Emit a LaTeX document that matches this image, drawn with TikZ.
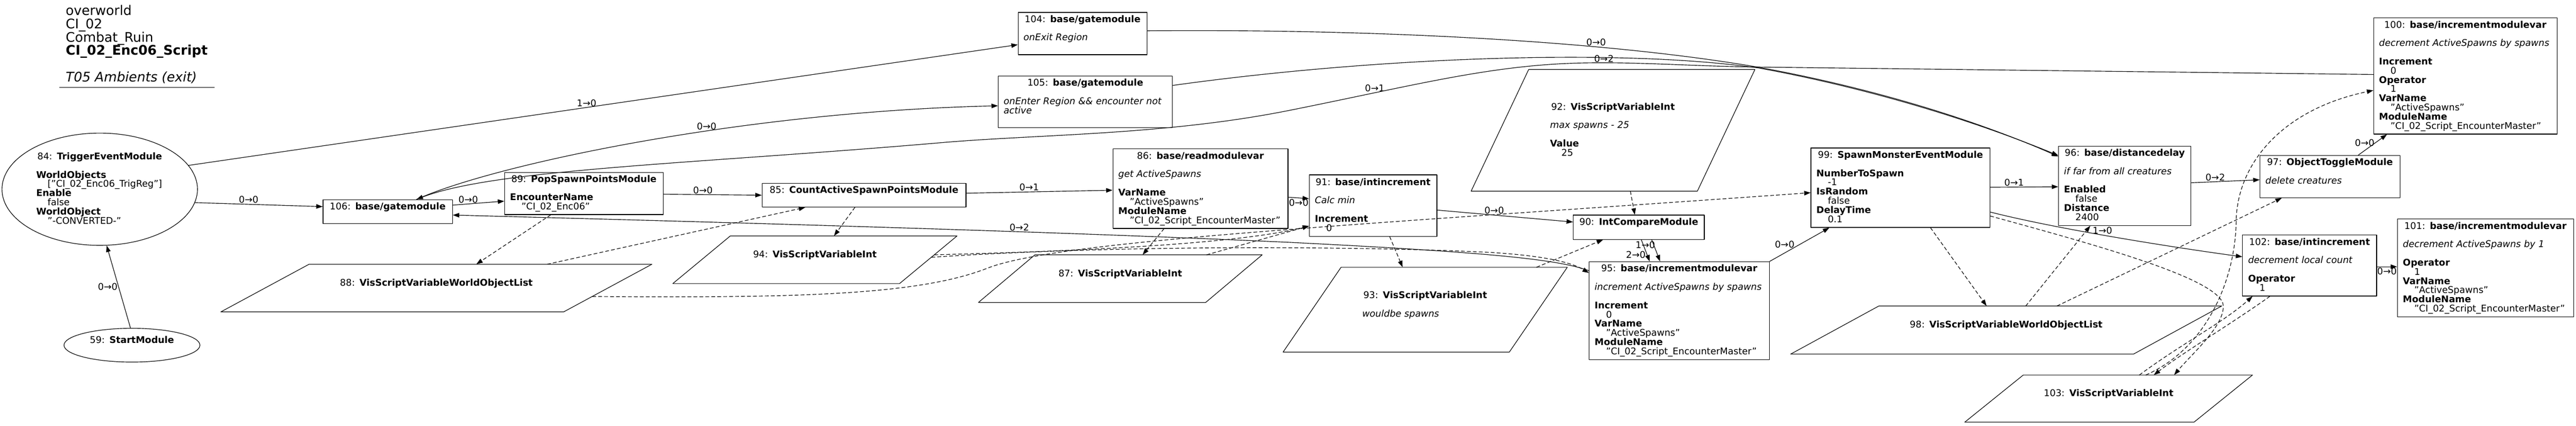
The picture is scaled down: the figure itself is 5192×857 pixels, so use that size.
\documentclass[tikz,border=0pt]{standalone}
\usepackage{fontspec}
\setmainfont{DejaVu Sans}
\usetikzlibrary{arrows.meta,shapes.geometric}

\newcommand\nfont{\fontsize{18.67pt}{18.5pt}\selectfont\lineskiplimit=-30pt\relax}
\newcommand\hfont{\fontsize{26.67pt}{26.8pt}\selectfont\lineskiplimit=-30pt\relax}
\newcommand\lstrut{\rule[-4.2pt]{0pt}{18.5pt}}
\newcommand\ttl[2]{\makebox[\linewidth]{#1: \textbf{#2}}}
\newcommand\cmt[1]{\mbox{\itshape #1}}
\newcommand\prp[2]{\mbox{\bfseries #1}\\\hspace*{23pt}\mbox{#2}}

\begin{document}
\begin{tikzpicture}[x=1pt,y=-1pt,line width=1.2pt,line cap=round,line join=round,>={Triangle[length=13pt,width=9pt]},
  modbox/.style={draw,rectangle,font=\nfont,align=left,inner xsep=11pt,inner ysep=0pt,execute at begin node=\lstrut,execute at end node=\lstrut},
  evell/.style={draw,ellipse,font=\nfont,align=left,inner sep=0pt,execute at begin node=\lstrut,execute at end node=\lstrut},
  varpg/.style={rectangle,font=\nfont,align=left,inner sep=0pt,outer sep=0pt,execute at begin node=\lstrut,execute at end node=\lstrut},
  lbl/.style={font=\nfont,inner sep=1.5pt},
  dsh/.style={dash pattern=on 7pt off 5pt}]
\useasboundingbox (0,0) rectangle (5192,857);

\node[anchor=north west,inner sep=0pt,font=\hfont,align=left] (title) at (132,9) {\rule{0pt}{21pt}overworld\\CI\_02\\Combat\_Ruin\\\textbf{CI\_02\_Enc06\_Script}\\[26.8pt]\textit{T05 Ambients (exit)}};
\draw (120,176) -- (432,176);

\node[evell,minimum width=394pt,minimum height=226pt,text width=256pt] (n84) at (201,381) {\ttl{84}{TriggerEventModule}\\\lstrut\\\prp{WorldObjects}{["CI\_02\_Enc06\_TrigReg"]}\\\prp{Enable}{false}\\\prp{WorldObject}{"-CONVERTED-"}};
\node[evell,minimum width=274pt,minimum height=68pt,text width=169pt] (n59) at (266,695) {\ttl{59}{StartModule}\\};

\node[modbox,minimum width=261pt,minimum height=48pt,text width=239pt] (n106) at (781.5,426) {\ttl{106}{base/gatemodule}\\};
\node[modbox,minimum width=320pt,minimum height=85pt,text width=298pt] (n89) at (1177,389.5) {\ttl{89}{PopSpawnPointsModule}\\\lstrut\\\prp{EncounterName}{"CI\_02\_Enc06"}};
\node[modbox,minimum width=411pt,minimum height=48pt,text width=389pt] (n85) at (1741.5,393) {\ttl{85}{CountActiveSpawnPointsModule}\\};
\node[modbox,minimum width=353pt,minimum height=160pt,text width=331pt] (n86) at (2419.5,380) {\ttl{86}{base/readmodulevar}\\\lstrut\\\cmt{get ActiveSpawns}\\\lstrut\\\prp{VarName}{"ActiveSpawns"}\\\prp{ModuleName}{"CI\_02\_Script\_EncounterMaster"}};
\node[modbox,minimum width=257pt,minimum height=124pt,text width=235pt] (n91) at (2767.5,414) {\ttl{91}{base/intincrement}\\\lstrut\\\cmt{Calc min}\\\lstrut\\\prp{Increment}{0}};
\node[modbox,minimum width=264pt,minimum height=49pt,text width=242pt] (n90) at (3303,457.5) {\ttl{90}{IntCompareModule}\\};
\node[modbox,minimum width=260pt,minimum height=85pt,text width=238pt] (n104) at (2182,67.5) {\ttl{104}{base/gatemodule}\\\lstrut\\\cmt{onExit Region}\\};
\node[modbox,minimum width=351pt,minimum height=104pt,text width=329pt] (n105) at (2187.5,205) {\ttl{105}{base/gatemodule}\\\lstrut\\\cmt{onEnter Region \&\& encounter not}\\\cmt{active}\\};
\node[modbox,minimum width=363pt,minimum height=197pt,text width=341pt] (n95) at (3384.5,625.5) {\ttl{95}{base/incrementmodulevar}\\\lstrut\\\cmt{increment ActiveSpawns by spawns}\\\lstrut\\\prp{Increment}{0}\\\prp{VarName}{"ActiveSpawns"}\\\prp{ModuleName}{"CI\_02\_Script\_EncounterMaster"}};
\node[modbox,minimum width=361pt,minimum height=160pt,text width=339pt] (n99) at (3830.5,378) {\ttl{99}{SpawnMonsterEventModule}\\\lstrut\\\prp{NumberToSpawn}{-1}\\\prp{IsRandom}{false}\\\prp{DelayTime}{0.1}};
\node[modbox,minimum width=267pt,minimum height=160pt,text width=245pt] (n96) at (4282.5,374) {\ttl{96}{base/distancedelay}\\\lstrut\\\cmt{if far from all creatures}\\\lstrut\\\prp{Enabled}{false}\\\prp{Distance}{2400}};
\node[modbox,minimum width=282pt,minimum height=85pt,text width=260pt] (n97) at (4696,355.5) {\ttl{97}{ObjectToggleModule}\\\lstrut\\\cmt{delete creatures}\\};
\node[modbox,minimum width=370pt,minimum height=234pt,text width=348pt] (n100) at (4969,153) {\ttl{100}{base/incrementmodulevar}\\\lstrut\\\cmt{decrement ActiveSpawns by spawns}\\\lstrut\\\prp{Increment}{0}\\\prp{Operator}{1}\\\prp{VarName}{"ActiveSpawns"}\\\prp{ModuleName}{"CI\_02\_Script\_EncounterMaster"}};
\node[modbox,minimum width=270pt,minimum height=123pt,text width=248pt] (n102) at (4655,534.5) {\ttl{102}{base/intincrement}\\\lstrut\\\cmt{decrement local count}\\\lstrut\\\prp{Operator}{1}};
\node[modbox,minimum width=355pt,minimum height=197pt,text width=333pt] (n101) at (5009.5,539.5) {\ttl{101}{base/incrementmodulevar}\\\lstrut\\\cmt{decrement ActiveSpawns by 1}\\\lstrut\\\prp{Operator}{1}\\\prp{VarName}{"ActiveSpawns"}\\\prp{ModuleName}{"CI\_02\_Script\_EncounterMaster"}};

\node[varpg,minimum width=869pt,minimum height=96pt,text width=420pt] (n88) at (879.5,580) {\ttl{88}{VisScriptVariableWorldObjectList}\\};
\node[varpg,minimum width=573pt,minimum height=96pt,text width=280pt] (n94) at (1642.5,523) {\ttl{94}{VisScriptVariableInt}\\};
\node[varpg,minimum width=572pt,minimum height=96pt,text width=280pt] (n87) at (2258,561) {\ttl{87}{VisScriptVariableInt}\\};
\node[varpg,minimum width=573pt,minimum height=171pt,text width=254pt] (n93) at (2872.5,623.5) {\ttl{93}{VisScriptVariableInt}\\\lstrut\\\cmt{wouldbe spawns}\\};
\node[varpg,minimum width=572pt,minimum height=245pt,text width=254pt] (n92) at (3251,262.5) {\ttl{92}{VisScriptVariableInt}\\\lstrut\\\cmt{max spawns - 25}\\\lstrut\\\prp{Value}{25}};
\node[varpg,minimum width=869pt,minimum height=97pt,text width=420pt] (n98) at (4043.5,664.5) {\ttl{98}{VisScriptVariableWorldObjectList}\\};
\node[varpg,minimum width=580pt,minimum height=95pt,text width=280pt] (n103) at (4250,802.5) {\ttl{103}{VisScriptVariableInt}\\};
\foreach \n/\s in {n88/178,n94/116,n87/114,n93/117,n92/116,n98/178,n103/118}
  \draw ([xshift=\s pt]\n.north west) -- (\n.north east) -- ([xshift=-\s pt]\n.south east) -- (\n.south west) -- cycle;

\draw[->] (n59.95) -- node[lbl,left]{0→0} (n84.-83);
\draw[->] (n84.-8) -- node[lbl,pos=.42,above]{0→0} ([yshift=10pt]n106.west);
\draw[->] (n84.15) -- node[lbl,pos=.48,above]{1→0} ([yshift=-22.5pt]n104.west);
\draw[->] ([xshift=58pt]n106.north) .. controls (1000,330) and (1500,225) .. node[lbl,pos=.6,above]{0→0} ([yshift=-8pt]n105.west);
\draw[->] ([yshift=13pt]n106.east) -- node[lbl,pos=.3,above]{0→0} ([yshift=-15.5pt]n89.west);
\draw[->] ([yshift=-1.5pt]n89.east) -- node[lbl,pos=.4,above]{0→0} (n85.west);
\draw[->] ([yshift=4pt]n85.east) -- node[lbl,pos=.43,above]{0→1} ([yshift=-3pt]n86.west);
\draw[->] ([yshift=-17pt]n86.east) -- node[lbl,midway,below]{0→0} ([yshift=14pt]n91.west);
\draw[->] ([yshift=-9pt]n91.east) -- node[lbl,pos=.42,above]{0→0} ([yshift=10.5pt]n90.west);
\draw[->] ([xshift=5pt]n90.south) -- node[lbl,pos=.25,xshift=4pt]{1→0} ([xshift=-59.5pt]n95.north);
\draw[->] ([xshift=26pt]n90.south) -- node[lbl,pos=.7,left=22pt]{2→0} ([xshift=-38.5pt]n95.north);
\draw[->] (n95.north east) -- node[lbl,midway,left=8pt]{0→0} ([xshift=-143.5pt]n99.south);
\draw[->] ([yshift=1pt]n99.east) -- node[lbl,pos=.35,above]{0→1} ([yshift=-2pt]n96.west);
\draw[->] ([yshift=-49pt]n99.east) .. controls (4150,462) and (4380,498) .. node[lbl,pos=.45,above]{1→0} ([yshift=17.5pt]n102.west);
\draw[->] ([yshift=6pt]n96.east) -- node[lbl,pos=.35,above]{0→2} ([yshift=-6.5pt]n97.west);
\draw[->] ([xshift=57pt]n97.north) -- node[lbl,pos=.6,left]{0→0} ([xshift=-158pt]n100.south);
\draw[->] ([yshift=-2.5pt]n102.east) -- node[lbl,midway,below]{0→0} ([yshift=2.5pt]n101.west);
\draw[->] ([yshift=5.5pt]n104.east) .. controls (2800,58) and (3250,85) .. node[lbl,pos=.68,above]{0→0} (3542,135) .. controls (3780,178) and (3990,245) .. ([yshift=59pt]n96.west);
\draw[->] ([yshift=33pt]n105.east) .. controls (2750,118) and (3250,95) .. node[lbl,pos=.7,yshift=-3pt]{0→2} (3545,137) .. controls (3780,180) and (3990,248) .. ([yshift=61pt]n96.west);
\draw[->] ([yshift=3pt]n100.west) -- (3542,135) .. controls (3400,133) and (3300,124) .. (3180,127) .. controls (3000,132) and (2850,172) .. node[lbl,pos=.75,above]{0→1} (2600,222) .. controls (2350,272) and (2100,270) .. (1900,287) .. controls (1400,330) and (1000,340) .. ([xshift=58pt]n106.north);
\draw[->] ([yshift=80.5pt]n95.west) .. controls (3140,522) and (3000,508) .. (2600,488) .. controls (2100,465) and (1400,446) .. node[lbl,pos=.33,above]{0→2} ([yshift=-7pt]n106.east);

\draw[->,dsh] ([xshift=-67pt]n89.south) -- ([xshift=80.5pt]n88.north);
\draw[->,dsh] ([xshift=223.5pt]n88.north) -- ([xshift=-118.5pt]n85.south);
\draw[->,dsh] ([xshift=-18.5pt]n85.south) -- ([xshift=38.5pt]n94.north);
\draw[->,dsh] ([xshift=-73.5pt]n86.south) -- ([xshift=45pt]n87.north);
\draw[->,dsh] ([xshift=174pt]n87.north) -- ([yshift=-41pt]n91.west);
\draw[->,dsh] ([xshift=-45.5pt,yshift=10pt]n94.east) .. controls (2200,505) and (2500,490) .. ([yshift=-41pt]n91.west);
\draw[->,dsh] ([xshift=-51.5pt,yshift=5pt]n94.east) .. controls (2300,490) and (2800,498) .. (3000,508) .. controls (3120,515) and (3170,530) .. ([yshift=76pt]n95.west);
\draw[->,dsh] ([xshift=33.5pt]n91.south) -- ([xshift=-45.5pt]n93.north);
\draw[->,dsh] ([xshift=35pt]n92.south) -- ([xshift=-8pt]n90.north);
\draw[->,dsh] ([xshift=224.5pt]n93.north) -- ([xshift=-72pt]n90.south);
\draw[->,dsh] ([xshift=-120pt,yshift=-17pt]n88.east) .. controls (1600,600) and (1850,595) .. (1990,540) .. controls (2130,485) and (2700,455) .. ([yshift=-10pt]n99.west);
\draw[->,dsh] ([xshift=60.5pt]n99.south) -- ([xshift=-39.5pt]n98.north);
\draw[->,dsh] ([xshift=39.5pt]n98.north) -- ([xshift=-69.5pt]n96.south);
\draw[->,dsh] ([xshift=102.5pt]n98.north) -- ([xshift=-97pt]n97.south);
\draw[->,dsh] ([yshift=-57pt]n99.east) .. controls (4250,500) and (4460,560) .. (4480,610) .. controls (4490,650) and (4420,710) .. ([xshift=132pt]n103.north);
\draw[->,dsh] ([xshift=-80pt]n102.south) .. controls (4500,650) and (4400,710) .. ([xshift=91pt]n103.north);
\draw[->,dsh] ([xshift=62pt]n103.north) .. controls (4400,690) and (4480,650) .. ([xshift=-115pt]n102.south);
\draw[->,dsh] ([xshift=75pt]n103.north) .. controls (4450,700) and (4505,560) .. (4507,447) .. controls (4508,330) and (4600,220) .. ([yshift=-29pt]n100.west);
\end{tikzpicture}
\end{document}
